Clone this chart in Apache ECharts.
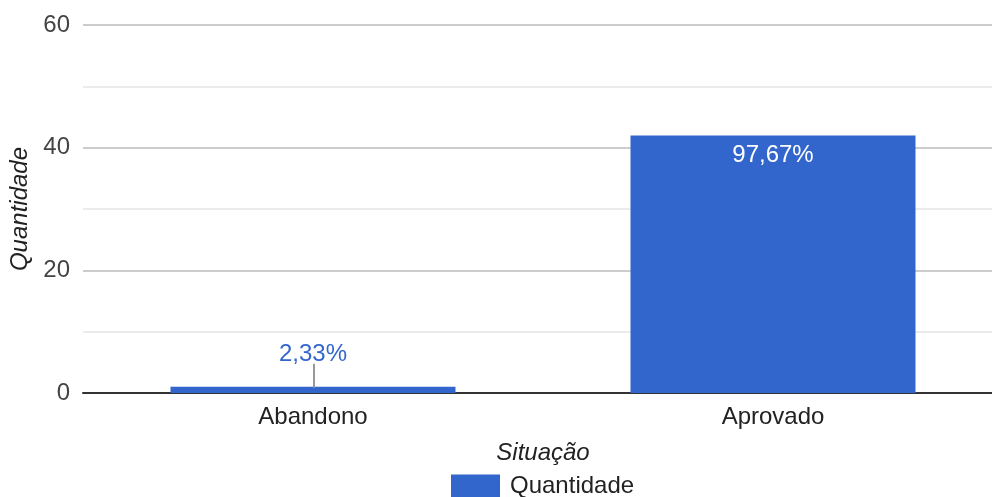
<!DOCTYPE html>
<html>
<head>
<meta charset="utf-8">
<script src="https://cdn.jsdelivr.net/npm/echarts@6/dist/echarts.min.js"></script>
<style>html,body{margin:0;padding:0;background:#fff}#c{width:992px;height:497px}</style>
</head>
<body>
<div id="c"></div>
<script>
const categories = ['Abandono', 'Aprovado'];
const quantidade = [1, 42];
const percentLabels = ['2,33%', '97,67%'];
const yTicks = [0, 20, 40, 60];

const FONT = "'Liberation Sans', Arial, sans-serif";
const chart = echarts.init(document.getElementById('c'), null, {renderer: 'canvas'});
const option = {
  animation: false,
  textStyle: {fontFamily: FONT},
  grid: {left: 83, top: 25, width: 920, height: 368, containLabel: false, outerBoundsMode: 'none'},
  legend: {
    data: ['Quantidade'], left: 446, top: 469, itemWidth: 49, itemHeight: 23, itemGap: 10,
    icon: 'rect',
    textStyle: {fontSize: 24, color: '#222', fontFamily: FONT, padding: [0, 0, 0, 5]}
  },
  xAxis: {
    type: 'category', data: categories,
    name: 'Situação', nameLocation: 'middle', nameGap: 48,
    nameTextStyle: {fontStyle: 'italic', fontSize: 24, color: '#222', fontFamily: FONT},
    axisLine: {show: true, lineStyle: {color: '#333', width: 2}},
    axisTick: {show: false},
    axisLabel: {fontSize: 24, color: '#222', margin: 12, fontFamily: FONT}
  },
  yAxis: {
    type: 'value', min: yTicks[0], max: yTicks[yTicks.length - 1], interval: 20,
    name: 'Quantidade', nameLocation: 'middle', nameGap: 48, nameRotate: 90,
    nameTextStyle: {fontStyle: 'italic', fontSize: 24, color: '#222', fontFamily: FONT},
    axisLine: {show: false}, axisTick: {show: false},
    axisLabel: {fontSize: 24, color: '#444', margin: 13, fontFamily: FONT},
    splitLine: {lineStyle: {color: '#ccc', width: 2}},
    minorTick: {show: false, splitNumber: 2},
    minorSplitLine: {show: true, lineStyle: {color: '#ebebeb', width: 2}}
  },
  series: [{
    name: 'Quantidade', type: 'bar', barWidth: 285,
    itemStyle: {color: '#3366cc'},
    data: quantidade.map((v, i) => {
      const item = {value: v};
      if (i === 0) {
        item.label = {show: true, position: 'top', distance: 20, color: '#3366cc', fontSize: 24,
          formatter: () => percentLabels[i]};
      } else {
        item.label = {show: true, position: 'insideTop', distance: 8, color: '#fff', fontSize: 24,
          formatter: () => percentLabels[i]};
      }
      return item;
    })
  }, {
    name: 'leader', type: 'custom', silent: true, z: 3,
    data: [[0, quantidade[0]]],
    renderItem: function (params, api) {
      const p = api.coord([api.value(0), api.value(1)]);
      return {
        type: 'line',
        shape: {x1: p[0] + 1, y1: p[1] + 1, x2: p[0] + 1, y2: p[1] - 23},
        style: {stroke: '#999', lineWidth: 2}
      };
    }
  }]
};
chart.setOption(option);
</script>
</body>
</html>
